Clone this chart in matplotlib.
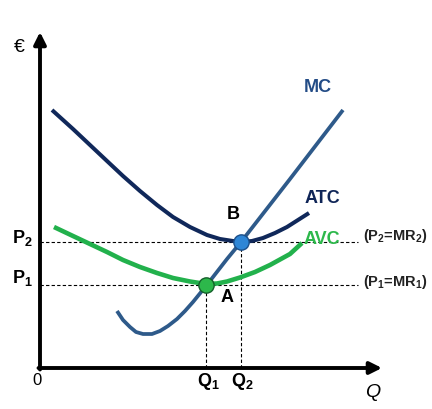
import matplotlib
matplotlib.use('Agg')
import matplotlib.pyplot as plt

plt.rcParams['font.family'] = ['Liberation Sans', 'DejaVu Sans']
plt.rcParams['mathtext.fontset'] = 'custom'
plt.rcParams['mathtext.rm'] = 'Liberation Sans:bold'
plt.rcParams['mathtext.it'] = 'Liberation Sans:bold'

# cost curves (Q, euro) with origin at the axes corner
mc_q = [77, 83, 90, 96, 103, 112, 120, 128, 137, 145, 153, 166, 187, 201, 250, 303]
mc_p = [57, 48, 41, 36, 34, 34, 37, 42, 49, 57, 66, 82, 109, 126, 189, 258]

atc_q = [12, 33, 50, 67, 83, 100, 117, 133, 150, 167, 180, 193, 201, 212, 223, 235, 247, 258, 269]
atc_p = [258, 239, 223, 207, 192, 177, 163, 151, 141, 133, 129, 127, 126, 127, 130, 135, 141, 148, 155]

avc_q = [14, 33, 50, 67, 83, 100, 117, 133, 150, 166, 177, 187, 200, 215, 230, 250, 262]
avc_p = [141, 132, 124, 116, 108, 101, 95, 90, 86.5, 84, 84.5, 86.5, 90.5, 96, 103, 114, 125]

# equilibrium points
q1, p1 = 166, 83
q2, p2 = 201, 126

fig = plt.figure(figsize=(4.32, 4.10), dpi=100)
ax = fig.add_axes([0, 0, 1, 1])
ax.set_xlim(-40, 392)
ax.set_ylim(-41, 369)
ax.axis('off')

# axes with arrows
ax.annotate('', xy=(0, 336), xytext=(0, -1.5),
            arrowprops=dict(arrowstyle='-|>', lw=2.8, color='black', mutation_scale=18,
                            shrinkA=0, shrinkB=0))
ax.annotate('', xy=(342, 0), xytext=(-1.5, 0),
            arrowprops=dict(arrowstyle='-|>', lw=2.8, color='black', mutation_scale=18,
                            shrinkA=0, shrinkB=0))

# dashed guide lines
ax.plot([0, 318], [p2, p2], ls='--', color='black', lw=0.8, dashes=(3, 2))
ax.plot([0, 318], [p1, p1], ls='--', color='black', lw=0.8, dashes=(3, 2))
ax.plot([q1, q1], [0, p1], ls='--', color='black', lw=0.8, dashes=(3, 2))
ax.plot([q2, q2], [0, p2], ls='--', color='black', lw=0.8, dashes=(3, 2))

# curves
ax.plot(avc_q, avc_p, color='#22B14C', lw=3.3, solid_capstyle='butt', solid_joinstyle='round')
ax.plot(atc_q, atc_p, color='#10285A', lw=2.9, solid_capstyle='butt', solid_joinstyle='round')
ax.plot(mc_q, mc_p, color='#2E5A8A', lw=2.7, solid_capstyle='butt', solid_joinstyle='round')

# points
ax.plot(q2, p2, 'o', ms=11, color='#2E86D6', mec='#1B4F8A', mew=1, zorder=5)
ax.plot(q1, p1, 'o', ms=11, color='#2DB84B', mec='#14602A', mew=1, zorder=5)

# labels
ax.text(278, 281, 'MC', color='#234C86', fontsize=13, fontweight='bold', ha='center', va='center')
ax.text(282, 170, 'ATC', color='#0F2557', fontsize=13, fontweight='bold', ha='center', va='center')
ax.text(282, 129, 'AVC', color='#2DB84B', fontsize=13, fontweight='bold', ha='center', va='center')
ax.text(193, 154, 'B', color='black', fontsize=13, fontweight='bold', ha='center', va='center')
ax.text(187, 71, 'A', color='black', fontsize=13, fontweight='bold', ha='center', va='center')
ax.text(355, 133, r'(P$_2$=MR$_2$)', color='#222222', fontsize=10.5, fontweight='bold', ha='center', va='center')
ax.text(355, 87, r'(P$_1$=MR$_1$)', color='#222222', fontsize=10.5, fontweight='bold', ha='center', va='center')
ax.text(-18, 131, r'P$_2$', color='black', fontsize=13, fontweight='bold', ha='center', va='center')
ax.text(-18, 91, r'P$_1$', color='black', fontsize=13, fontweight='bold', ha='center', va='center')
ax.text(-21, 321, '€', color='black', fontsize=14, ha='center', va='center')
ax.text(-3, -12, '0', color='black', fontsize=12, ha='center', va='center')
ax.text(168, -13, r'Q$_1$', color='black', fontsize=13, fontweight='bold', ha='center', va='center')
ax.text(202, -13, r'Q$_2$', color='black', fontsize=13, fontweight='bold', ha='center', va='center')
ax.text(333, -24, 'Q', color='black', fontsize=14, fontstyle='italic', ha='center', va='center')

fig.savefig('out.png', dpi=100)
